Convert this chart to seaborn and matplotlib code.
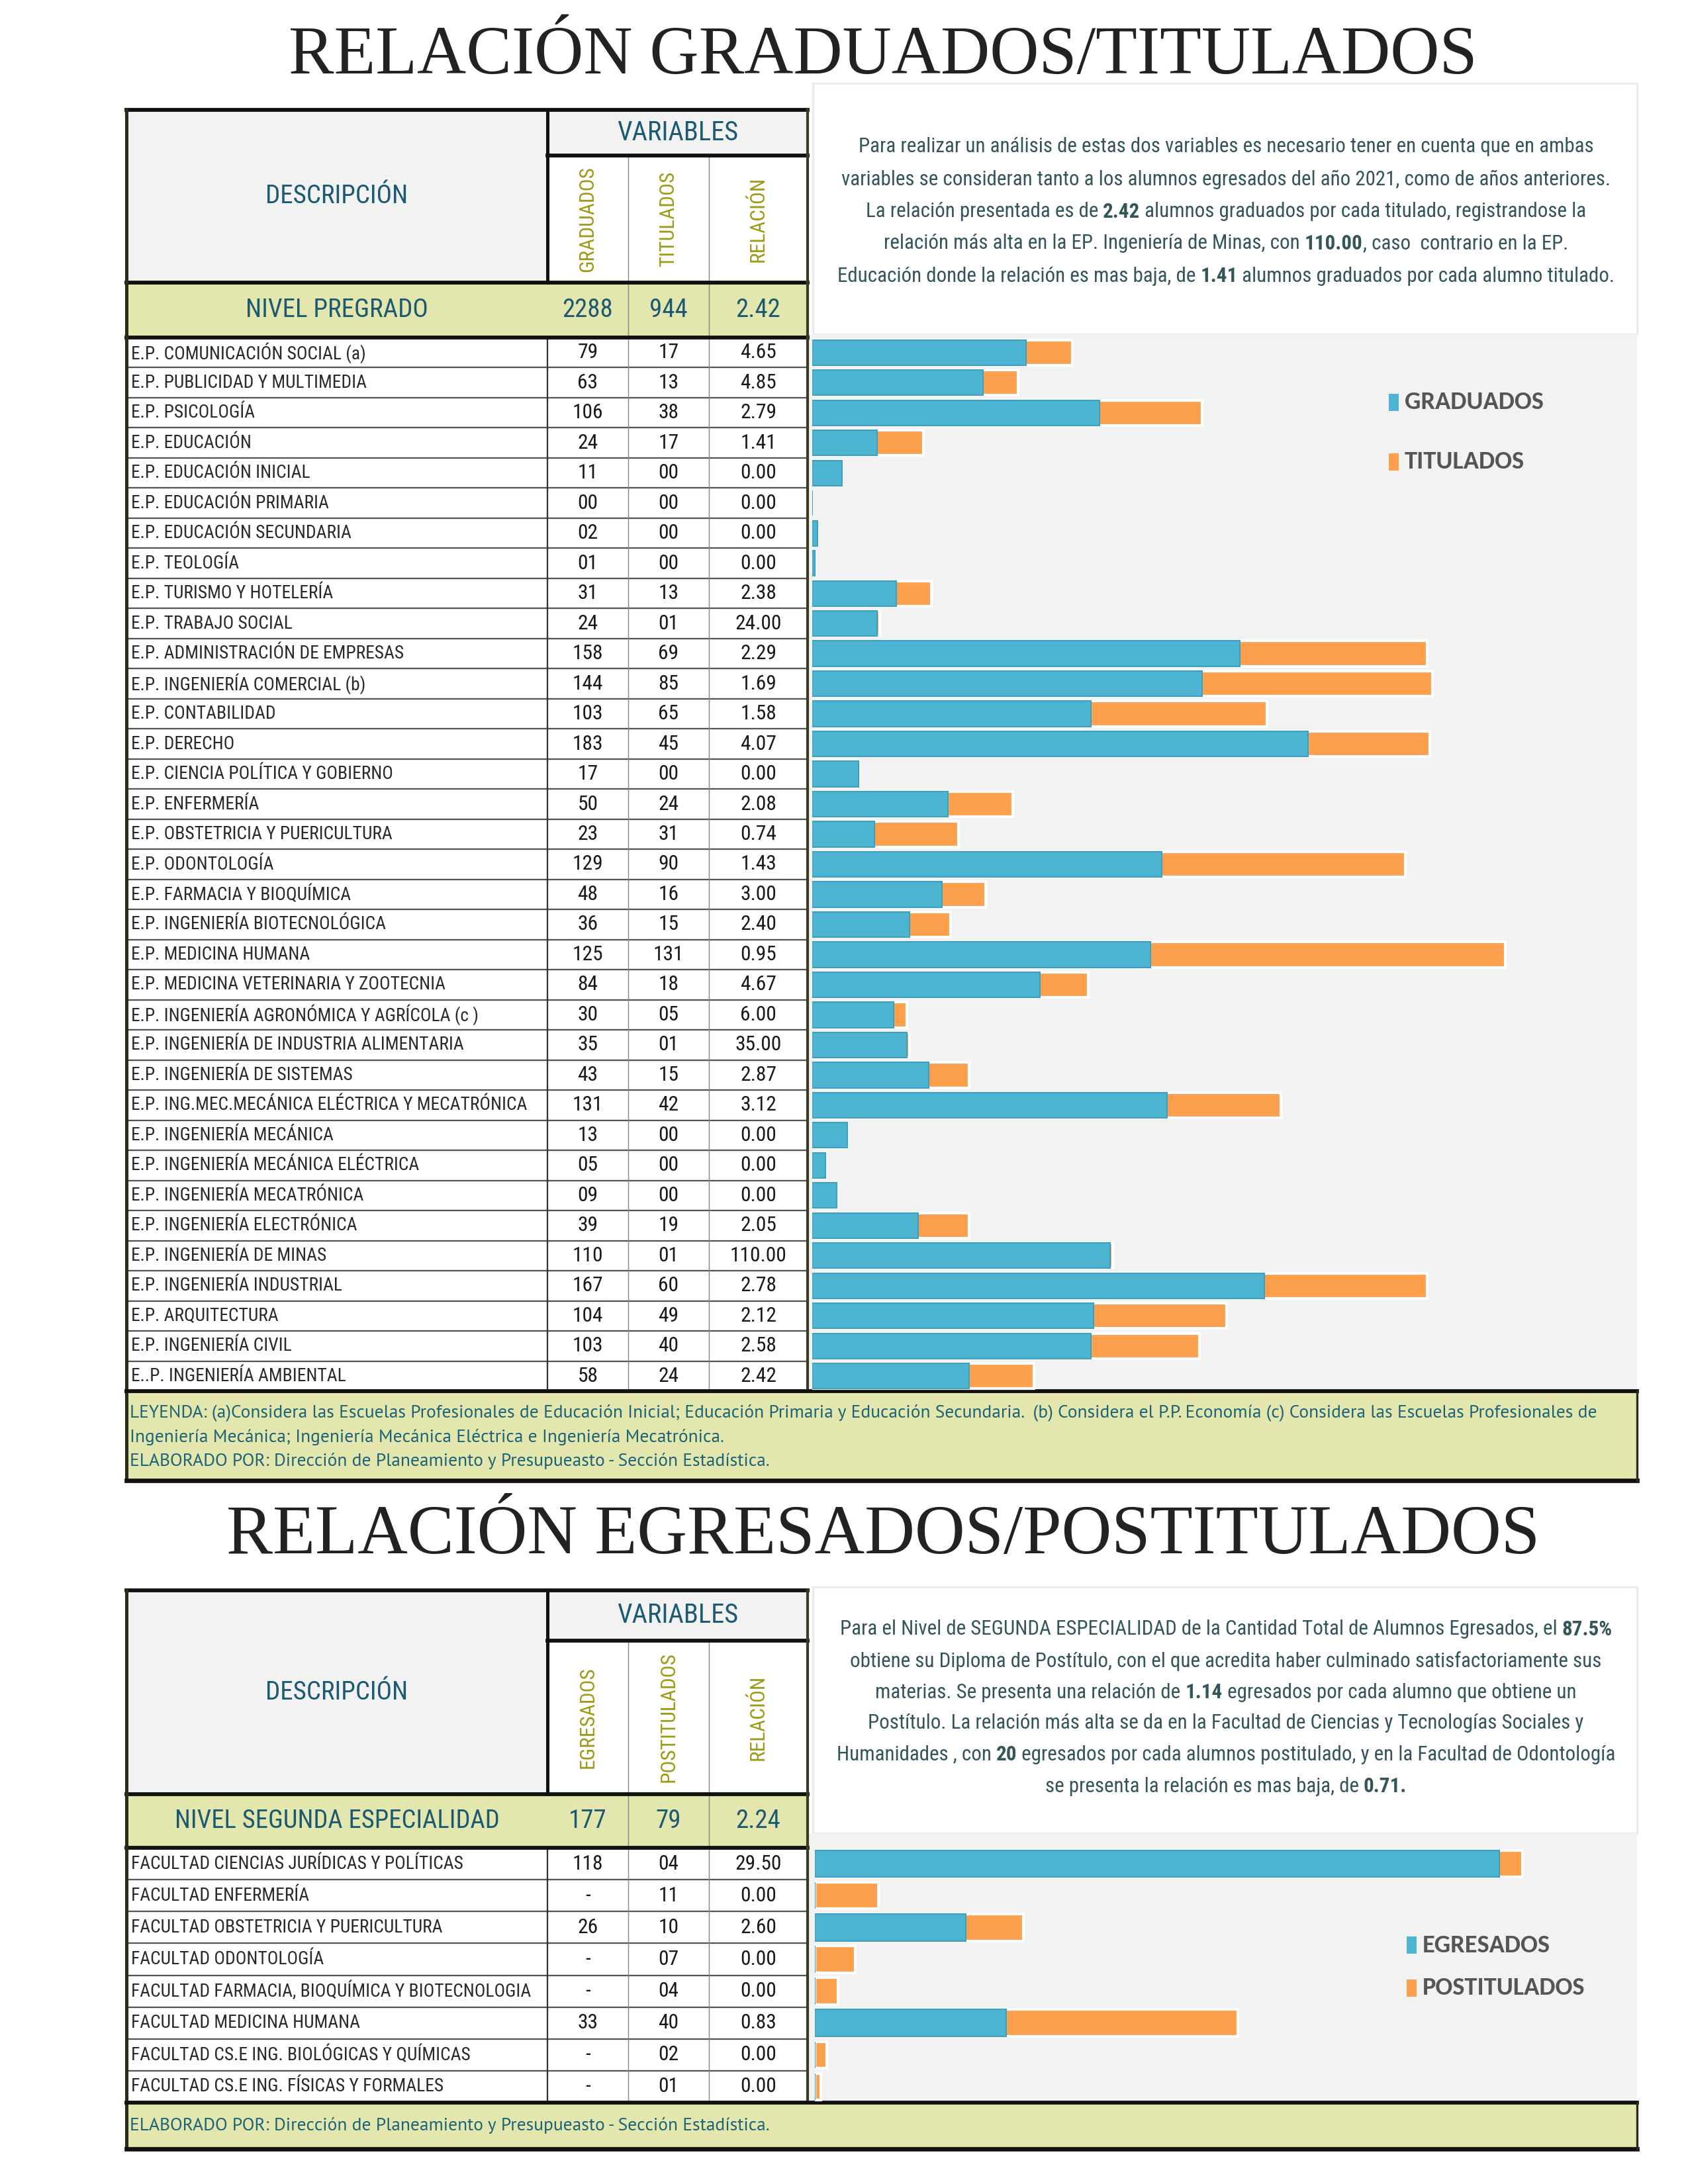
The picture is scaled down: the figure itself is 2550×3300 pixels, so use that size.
import numpy as np
import pandas as pd
import matplotlib
matplotlib.use('Agg')
import matplotlib.pyplot as plt
import seaborn as sns
from matplotlib import font_manager as fm
from matplotlib.patches import Rectangle

# ---------------- datos: nivel pregrado ----------------
escuelas = [
    'E.P. COMUNICACIÓN SOCIAL (a)', 'E.P. PUBLICIDAD Y MULTIMEDIA', 'E.P. PSICOLOGÍA',
    'E.P. EDUCACIÓN', 'E.P. EDUCACIÓN INICIAL', 'E.P. EDUCACIÓN PRIMARIA',
    'E.P. EDUCACIÓN SECUNDARIA', 'E.P. TEOLOGÍA', 'E.P. TURISMO Y HOTELERÍA',
    'E.P. TRABAJO SOCIAL', 'E.P. ADMINISTRACIÓN DE EMPRESAS', 'E.P. INGENIERÍA COMERCIAL (b)',
    'E.P. CONTABILIDAD', 'E.P. DERECHO', 'E.P. CIENCIA POLÍTICA Y GOBIERNO',
    'E.P. ENFERMERÍA', 'E.P. OBSTETRICIA Y PUERICULTURA', 'E.P. ODONTOLOGÍA',
    'E.P. FARMACIA Y BIOQUÍMICA', 'E.P. INGENIERÍA BIOTECNOLÓGICA', 'E.P. MEDICINA HUMANA',
    'E.P. MEDICINA VETERINARIA Y ZOOTECNIA', 'E.P. INGENIERÍA AGRONÓMICA Y AGRÍCOLA (c )',
    'E.P. INGENIERÍA DE INDUSTRIA ALIMENTARIA', 'E.P. INGENIERÍA DE SISTEMAS',
    'E.P. ING.MEC.MECÁNICA ELÉCTRICA Y MECATRÓNICA', 'E.P. INGENIERÍA MECÁNICA',
    'E.P. INGENIERÍA MECÁNICA ELÉCTRICA', 'E.P. INGENIERÍA MECATRÓNICA',
    'E.P. INGENIERÍA ELECTRÓNICA', 'E.P. INGENIERÍA DE MINAS', 'E.P. INGENIERÍA INDUSTRIAL',
    'E.P. ARQUITECTURA', 'E.P. INGENIERÍA CIVIL', 'E..P. INGENIERÍA AMBIENTAL',
]
graduados = [79, 63, 106, 24, 11, 0, 2, 1, 31, 24, 158, 144, 103, 183, 17, 50, 23, 129,
             48, 36, 125, 84, 30, 35, 43, 131, 13, 5, 9, 39, 110, 167, 104, 103, 58]
titulados = [17, 13, 38, 17, 0, 0, 0, 0, 13, 1, 69, 85, 65, 45, 0, 24, 31, 90,
             16, 15, 131, 18, 5, 1, 15, 42, 0, 0, 0, 19, 1, 60, 49, 40, 24]
relacion = [4.65, 4.85, 2.79, 1.41, 0.00, 0.00, 0.00, 0.00, 2.38, 24.00, 2.29, 1.69,
            1.58, 4.07, 0.00, 2.08, 0.74, 1.43, 3.00, 2.40, 0.95, 4.67, 6.00, 35.00,
            2.87, 3.12, 0.00, 0.00, 0.00, 2.05, 110.00, 2.78, 2.12, 2.58, 2.42]
total_pregrado = ['2288', '944', '2.42']

# ---------------- datos: segunda especialidad ----------------
facultades = [
    'FACULTAD CIENCIAS JURÍDICAS Y POLÍTICAS', 'FACULTAD ENFERMERÍA',
    'FACULTAD OBSTETRICIA Y PUERICULTURA', 'FACULTAD ODONTOLOGÍA',
    'FACULTAD FARMACIA, BIOQUÍMICA Y BIOTECNOLOGIA', 'FACULTAD MEDICINA HUMANA',
    'FACULTAD CS.E ING. BIOLÓGICAS Y QUÍMICAS', 'FACULTAD CS.E ING. FÍSICAS Y FORMALES',
]
egresados = [118, 0, 26, 0, 0, 33, 0, 0]
egresados_txt = ['118', '-', '26', '-', '-', '33', '-', '-']
postitulados = [4, 11, 10, 7, 4, 40, 2, 1]
relacion_seg = [29.50, 0.00, 2.60, 0.00, 0.00, 0.83, 0.00, 0.00]
total_segunda = ['177', '79', '2.24']

texto_pregrado = [
    [('Para realizar un análisis de estas dos variables es necesario tener en cuenta que en ambas', False)],
    [('variables se consideran tanto a los alumnos egresados del año 2021, como de años anteriores.', False)],
    [('La relación presentada es de ', False), ('2.42', True),
     (' alumnos graduados por cada titulado, registrandose la', False)],
    [('relación más alta en la EP. Ingeniería de Minas, con ', False), ('110.00', True),
     (', caso  contrario en la EP.', False)],
    [('Educación donde la relación es mas baja, de ', False), ('1.41', True),
     (' alumnos graduados por cada alumno titulado.', False)],
]
texto_segunda = [
    [('Para el Nivel de SEGUNDA ESPECIALIDAD de la Cantidad Total de Alumnos Egresados, el ', False),
     ('87.5%', True)],
    [('obtiene su Diploma de Postítulo, con el que acredita haber culminado satisfactoriamente sus', False)],
    [('materias. Se presenta una relación de ', False), ('1.14', True),
     (' egresados por cada alumno que obtiene un', False)],
    [('Postítulo. La relación más alta se da en la Facultad de Ciencias y Tecnologías Sociales y', False)],
    [('Humanidades , con ', False), ('20', True),
     (' egresados por cada alumnos postitulado, y en la Facultad de Odontología', False)],
    [('se presenta la relación es mas baja, de ', False), ('0.71.', True)],
]
leyenda = [
    'LEYENDA: (a)Considera las Escuelas Profesionales de Educación Inicial; Educación Primaria y '
    'Educación Secundaria.  (b) Considera el P.P. Economía (c) Considera las Escuelas Profesionales de',
    'Ingeniería Mecánica; Ingeniería Mecánica Eléctrica e Ingeniería Mecatrónica.',
    'ELABORADO POR: Dirección de Planeamiento y Presupueasto - Sección Estadística.',
]

# ---------------- estilo ----------------
sns.set_theme(style='white')
installed = {f.name for f in fm.fontManager.ttflist}


def pick(cands, default='DejaVu Sans'):
    for c in cands:
        if c in installed:
            return c
    return default


COND = pick(['Roboto Condensed', 'Barlow Semi Condensed', 'Archivo Narrow', 'PT Sans Narrow',
             'Fira Sans Condensed', 'IBM Plex Sans Condensed', 'Encode Sans Condensed',
             'Asap Condensed', 'Liberation Sans Narrow', 'Roboto'])
LEG_FONT = pick(['Carlito', 'Open Sans'])
NOTE_FONT = pick(['PT Sans', 'Liberation Sans'])
TITLE_FONT = pick(['Liberation Serif'], 'DejaVu Serif')
plt.rcParams['font.family'] = [COND, 'DejaVu Sans']

BLUE = '#4db4d2'
BLUE_EDGE = '#3f9fbd'
ORANGE = '#fda04e'
TEAL = '#1b5a72'
OLIVE = '#a09a18'
PALE = '#e3e6ad'
GRAY_BG = '#f2f2f2'
PARA = '#34555a'

W, H = 2550, 3300
fig = plt.figure(figsize=(8.5, 11), dpi=300)
base = fig.add_axes([0, 0, 1, 1])
base.set_xlim(0, W)
base.set_ylim(H, 0)
base.set_axis_off()
renderer = fig.canvas.get_renderer()

X0, XD, XG, XT, XR, XE = 191, 827, 949, 1071, 1220, 2473


def fit(s, target, family=COND, weight='normal'):
    t = base.text(0, 0, s, fontsize=10, family=[family, 'DejaVu Sans'], fontweight=weight)
    w = t.get_window_extent(renderer).width
    t.remove()
    return 10 * target / w


def rect(x0, y0, x1, y1, fc, ec='none', lw=0, z=0):
    base.add_patch(Rectangle((x0, y0), x1 - x0, y1 - y0, facecolor=fc,
                             edgecolor=ec, linewidth=lw, zorder=z))


def line(x0, y0, x1, y1, lw=1.2, color='#111111', z=3):
    base.plot([x0, x1], [y0, y1], color=color, lw=lw, solid_capstyle='projecting', zorder=z)


def rich_line(cx, y, parts, size, color):
    texts = []
    for s, bold in parts:
        texts.append(base.text(0, y, s, fontsize=size, color=color, va='center', ha='left',
                               fontweight='bold' if bold else 'normal'))
    widths = [t.get_window_extent(renderer).width for t in texts]
    x = cx - sum(widths) / 2
    for t, w in zip(texts, widths):
        t.set_x(x)
        x += w


def widest(parrafo, size=10):
    best = 0
    for parts in parrafo:
        tot = 0
        for s, bold in parts:
            t = base.text(0, 0, s, fontsize=size, fontweight='bold' if bold else 'normal')
            tot += t.get_window_extent(renderer).width
            t.remove()
        best = max(best, tot)
    return best


ROW_SIZE = fit('E.P. ING.MEC.MECÁNICA ELÉCTRICA Y MECATRÓNICA', 600)
NUM_SIZE = fit('110.00', 86)
HEAD_SIZE = fit('GRADUADOS', 160)
DESC_SIZE = fit('DESCRIPCIÓN', 215)
VAR_SIZE = fit('VARIABLES', 183)
NOTE_SIZE = fit(leyenda[0], 2213, NOTE_FONT)
LEG_SIZE = fit('GRADUADOS', 210, LEG_FONT, 'bold')
PARA_SIZE = 10 * 1177 / widest(texto_pregrado)


def draw_section(top, var_bot, sub_bot, niv_bot, rows_bot, foot_bot, panel, gray_top,
                 labels, c1, c2, c3, heads, nivel_label, nivel_w, nivel_vals,
                 parrafo, line_y, notas, notas_y):
    n = len(labels)
    rh = (rows_bot - niv_bot) / n
    # fondos
    rect(X0, top, XD, sub_bot, GRAY_BG)
    rect(XD, top, XR, var_bot, GRAY_BG)
    rect(XD, var_bot, XR, sub_bot, 'white')
    rect(X0, sub_bot, XR, niv_bot, PALE)
    rect(X0, niv_bot, XR, rows_bot, 'white')
    rect(X0, rows_bot, XE, foot_bot, PALE)
    rect(1228, panel[0], XE, panel[1], 'white', ec='#ebebeb', lw=0.8)
    rect(1222, gray_top, XE, rows_bot, GRAY_BG)

    # lineas de filas
    for i in range(1, n):
        y = niv_bot + i * rh
        line(X0, y, XR, y, lw=0.55, color='#555555', z=2)
    line(XD, niv_bot, XD, rows_bot, lw=0.55, color='#333333', z=2)
    for x in (XG, XT):
        line(x, var_bot, x, rows_bot, lw=0.35, color='#8a8a8a', z=2)

    # bordes gruesos
    line(X0, top, XR, top, lw=1.4)
    line(XD, var_bot, XR, var_bot, lw=1.4)
    line(X0, sub_bot, XR, sub_bot, lw=1.4)
    line(X0, niv_bot, XR, niv_bot, lw=1.4)
    line(XD, top, XD, sub_bot, lw=1.2)
    line(X0, top, X0, foot_bot, lw=1.2, color='#2b2b1a')
    line(XR, top, XR, rows_bot, lw=1.0, color='#3b3b22')
    line(X0, rows_bot, XE, rows_bot, lw=1.4)
    line(X0, foot_bot, XE, foot_bot, lw=1.6)
    line(XE, rows_bot, XE, foot_bot, lw=0.8, color='#2b2b1a')

    # encabezados
    base.text((X0 + XD) / 2, (top + sub_bot) / 2, 'DESCRIPCIÓN', fontsize=DESC_SIZE, color=TEAL,
              ha='center', va='center')
    base.text((XD + XR) / 2, (top + var_bot) / 2, 'VARIABLES', fontsize=VAR_SIZE, color=TEAL,
              ha='center', va='center')
    cx = [(XD + XG) / 2, (XG + XT) / 2, (XT + XR) / 2]
    for x, h in zip(cx, heads):
        base.text(x, (var_bot + sub_bot) / 2, h, fontsize=HEAD_SIZE, color=OLIVE, rotation=90,
                  ha='center', va='center', rotation_mode='anchor')
    nsize = fit(nivel_label, nivel_w)
    base.text((X0 + XD) / 2, (sub_bot + niv_bot) / 2, nivel_label, fontsize=nsize, color=TEAL,
              ha='center', va='center')
    for x, v in zip(cx, nivel_vals):
        base.text(x, (sub_bot + niv_bot) / 2, v, fontsize=DESC_SIZE, color=TEAL,
                  ha='center', va='center')

    # filas
    for i in range(n):
        y = niv_bot + (i + 0.5) * rh
        base.text(X0 + 7, y, labels[i], fontsize=ROW_SIZE, color='#2a2a2a', ha='left', va='center')
        for x, v in zip(cx, (c1[i], c2[i], c3[i])):
            base.text(x, y, v, fontsize=NUM_SIZE, color='#1a1a1a', ha='center', va='center')

    # parrafo
    for parts, y in zip(parrafo, line_y):
        rich_line(1852, y, parts, PARA_SIZE, PARA)

    # notas
    for s, y in zip(notas, notas_y):
        base.text(X0 + 5, y, s, fontsize=NOTE_SIZE, color='#1d6378', ha='left', va='center',
                  family=[NOTE_FONT, 'DejaVu Sans'])


def draw_bars(x0, y0, x1, y1, labels, a, b, xmax, legend_xy, names):
    ax = fig.add_axes([x0 / W, 1 - y1 / H, (x1 - x0) / W, (y1 - y0) / H])
    df = pd.DataFrame({'cat': labels, 'a': a, 'total': np.array(a) + np.array(b)})
    sns.barplot(data=df, x='total', y='cat', orient='h', color=ORANGE, width=0.84,
                saturation=1, errorbar=None, ax=ax)
    sns.barplot(data=df, x='a', y='cat', orient='h', color=BLUE, width=0.84,
                saturation=1, errorbar=None, edgecolor=BLUE_EDGE, linewidth=0.5, ax=ax)
    ax.set_xlim(0, xmax)
    ax.set_ylim(len(labels) - 0.5, -0.5)
    ax.set_axis_off()
    ax.patch.set_alpha(0)
    lx, ly = legend_xy
    for (name, col), y in zip(zip(names, (BLUE, ORANGE)), ly):
        rect(lx, y - 13, lx + 15, y + 13, col, z=4)
        base.text(lx + 24, y, name, fontsize=LEG_SIZE, color='#555555', fontweight='bold',
                  ha='left', va='center', family=[LEG_FONT, 'DejaVu Sans'], zorder=5)


# titulos
t1 = 'RELACIÓN GRADUADOS/TITULADOS'
t2 = 'RELACIÓN EGRESADOS/POSTITULADOS'
base.text(1334, 86, t1, fontsize=fit(t1, 1794, TITLE_FONT), color='#222222',
          ha='center', va='center', family=[TITLE_FONT, 'DejaVu Serif'])
base.text(1334, 2322, t2, fontsize=fit(t2, 1982, TITLE_FONT), color='#222222',
          ha='center', va='center', family=[TITLE_FONT, 'DejaVu Serif'])

# seccion 1
draw_section(166, 235, 427, 510, 2102, 2237, (126, 505), 505,
             escuelas, [f'{v:02d}' for v in graduados], [f'{v:02d}' for v in titulados],
             [f'{v:.2f}' for v in relacion], ['GRADUADOS', 'TITULADOS', 'RELACIÓN'],
             'NIVEL PREGRADO', 276, total_pregrado, texto_pregrado, [222, 271, 320, 368, 417],
             leyenda, [2135, 2172, 2208])
draw_bars(1227, 510, XE, 2102, escuelas, graduados, titulados, 304.6,
          (2098, [608, 698]), ['GRADUADOS', 'TITULADOS'])

# seccion 2
draw_section(2403, 2479, 2711, 2792, 3177, 3247, (2398, 2770), 2770,
             facultades, egresados_txt, [f'{v:02d}' for v in postitulados],
             [f'{v:.2f}' for v in relacion_seg], ['EGRESADOS', 'POSTITULADOS', 'RELACIÓN'],
             'NIVEL SEGUNDA ESPECIALIDAD', 490, total_segunda, texto_segunda,
             [2462, 2510, 2557, 2604, 2651, 2699], leyenda[2:], [3212])
draw_bars(1231, 2792, XE, 3177, facultades, egresados, postitulados, 141.8,
          (2125, [2939, 3004]), ['EGRESADOS', 'POSTITULADOS'])

fig.savefig('out.png', dpi=300, facecolor='white')
